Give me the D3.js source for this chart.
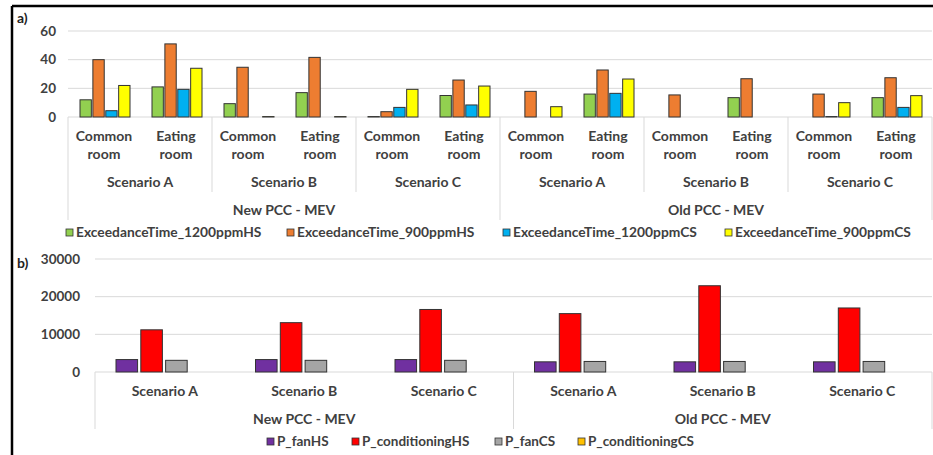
<!DOCTYPE html>
<html>
<head>
<meta charset="utf-8">
<script src="https://cdn.jsdelivr.net/npm/d3@7"></script>
<style>
  body { margin: 0; background: #fff; }
  svg { display: block; font-family: Lato, 'Open Sans', sans-serif; font-weight: bold; }
  .lbl { fill: #404040; }
  .grid line { stroke: #d9d9d9; }
</style>
</head>
<body>
<svg width="933" height="455"></svg>
<script>
// categories
var rooms = ['Common room', 'Eating room'];
var scenarios = ['Scenario A', 'Scenario B', 'Scenario C'];
var systems = ['New PCC - MEV', 'Old PCC - MEV'];

// panel a) series, one value per system/scenario/room
var seriesA = ['ExceedanceTime_1200ppmHS', 'ExceedanceTime_900ppmHS', 'ExceedanceTime_1200ppmCS', 'ExceedanceTime_900ppmCS'];
var ex1200HS = [12, 21, 9.3, 17, 0.3, 15, 0, 16, 0, 13.5, 0, 13.5];
var ex900HS = [40, 51, 34.7, 41.6, 3.7, 25.8, 17.9, 32.8, 15.4, 26.7, 16, 27.4];
var ex1200CS = [4.4, 19.3, 0, 0, 6.7, 8.4, 0, 16.5, 0, 0, 0.3, 6.7];
var ex900CS = [22, 34, 0.3, 0.3, 19.3, 21.6, 7.2, 26.5, 0, 0, 10, 14.9];
var ticksA = [0, 20, 40, 60];
var colorsA = ['#92d050', '#ed7d31', '#00b0f0', '#ffff00'];

// panel b) series, one value per system/scenario
var seriesB = ['P_fanHS', 'P_conditioningHS', 'P_fanCS', 'P_conditioningCS'];
var fanHS = [3300, 3300, 3300, 2700, 2700, 2700];
var condHS = [11200, 13100, 16600, 15500, 22900, 17000];
var fanCS = [3100, 3100, 3100, 2800, 2800, 2800];
var condCS = [0, 0, 0, 0, 0, 0];
var ticksB = [0, 10000, 20000, 30000];
var colorsB = ['#7030a0', '#ff0000', '#a5a5a5', '#ffc000'];

var svg = d3.select('svg');

// frame
svg.append('line').attr('x1', 12).attr('x2', 933).attr('y1', 6).attr('y2', 6)
  .attr('stroke', '#000').attr('stroke-width', 2.5);
svg.append('line').attr('x1', 12).attr('x2', 12).attr('y1', 6).attr('y2', 455)
  .attr('stroke', '#000').attr('stroke-width', 2.5);

// ---------- panel a ----------
var catsA = [];
systems.forEach(function(s){ scenarios.forEach(function(sc){ rooms.forEach(function(r){ catsA.push(s + '|' + sc + '|' + r); }); }); });
var valsA = [ex1200HS, ex900HS, ex1200CS, ex900CS];

var xA = d3.scaleBand().domain(catsA).range([68, 932]);
var innerA = d3.scaleBand().domain(seriesA).range([12, 62]).paddingInner(0.12);
var yA = d3.scaleLinear().domain([0, 60]).range([117, 31]);

var gridA = svg.append('g').attr('class', 'grid');
gridA.selectAll('line').data(ticksA).enter().append('line')
  .attr('x1', 68).attr('x2', 932)
  .attr('y1', function(d){ return yA(d); }).attr('y2', function(d){ return yA(d); });

svg.append('g').selectAll('text').data(ticksA).enter().append('text')
  .attr('class', 'lbl').attr('x', 56).attr('y', function(d){ return yA(d) + 4.5; })
  .attr('text-anchor', 'end').attr('font-size', 13.5).text(function(d){ return d; });

var barsA = svg.append('g');
seriesA.forEach(function(s, si){
  barsA.selectAll('.b' + si).data(catsA.map(function(c, i){ return {c: c, v: valsA[si][i]}; }).filter(function(d){ return d.v > 0; }))
    .enter().append('rect')
    .attr('x', function(d){ return xA(d.c) + innerA(s); })
    .attr('width', innerA.bandwidth())
    .attr('y', function(d){ return yA(d.v); })
    .attr('height', function(d){ return yA(0) - yA(d.v); })
    .attr('fill', colorsA[si]).attr('stroke', '#333').attr('stroke-width', 1);
});

// category axis a
var axA = svg.append('g');
catsA.forEach(function(c){
  var room = c.split('|')[2].split(' ');
  var cx = xA(c) + xA.bandwidth() / 2;
  axA.append('text').attr('class', 'lbl').attr('x', cx).attr('y', 141).attr('text-anchor', 'middle')
    .attr('font-size', 14).text(room[0]);
  axA.append('text').attr('class', 'lbl').attr('x', cx).attr('y', 159).attr('text-anchor', 'middle')
    .attr('font-size', 14).text(room[1]);
});
var scenW = xA.bandwidth() * rooms.length;
systems.forEach(function(s, i){
  scenarios.forEach(function(sc, j){
    var x0 = xA(s + '|' + sc + '|' + rooms[0]);
    axA.append('text').attr('class', 'lbl').attr('x', x0 + scenW / 2).attr('y', 187).attr('text-anchor', 'middle')
      .attr('font-size', 14).text(sc);
    if (j > 0) {
      axA.append('line').attr('x1', x0).attr('x2', x0).attr('y1', 117).attr('y2', 192).attr('stroke', '#d9d9d9');
    }
  });
  var g0 = xA(s + '|' + scenarios[0] + '|' + rooms[0]);
  axA.append('text').attr('class', 'lbl').attr('x', g0 + scenW * 1.5).attr('y', 215).attr('text-anchor', 'middle')
    .attr('font-size', 14).text(s);
  axA.append('line').attr('x1', g0).attr('x2', g0).attr('y1', 117).attr('y2', 220).attr('stroke', '#d9d9d9');
});
axA.append('line').attr('x1', 932).attr('x2', 932).attr('y1', 117).attr('y2', 220).attr('stroke', '#d9d9d9');

// legend a
var legAx = [66, 287, 503, 725];
var legA = svg.append('g');
seriesA.forEach(function(s, i){
  legA.append('rect').attr('x', legAx[i]).attr('y', 229).attr('width', 7).attr('height', 7)
    .attr('fill', colorsA[i]).attr('stroke', '#333').attr('stroke-width', 0.8);
  legA.append('text').attr('class', 'lbl').attr('x', legAx[i] + 10).attr('y', 237)
    .attr('font-size', 13.8).text(s);
});

svg.append('text').attr('x', 17).attr('y', 23).attr('font-size', 14).attr('fill', '#222').text('a)');
svg.append('text').attr('x', 17).attr('y', 268).attr('font-size', 14).attr('fill', '#222').text('b)');

// ---------- panel b ----------
var catsB = [];
systems.forEach(function(s){ scenarios.forEach(function(sc){ catsB.push(s + '|' + sc); }); });
var valsB = [fanHS, condHS, fanCS, condCS];

var xB = d3.scaleBand().domain(catsB).range([95, 932]);
var innerB = d3.scaleBand().domain(seriesB).range([21, 117]).paddingInner(0.13);
var yB = d3.scaleLinear().domain([0, 30000]).range([372, 259]);

var gridB = svg.append('g').attr('class', 'grid');
gridB.selectAll('line').data(ticksB).enter().append('line')
  .attr('x1', 95).attr('x2', 932)
  .attr('y1', function(d){ return yB(d); }).attr('y2', function(d){ return yB(d); });

svg.append('g').selectAll('text').data(ticksB).enter().append('text')
  .attr('class', 'lbl').attr('x', 80).attr('y', function(d){ return yB(d) + 4.5; })
  .attr('text-anchor', 'end').attr('font-size', 13.5).text(function(d){ return d; });

var barsB = svg.append('g');
seriesB.forEach(function(s, si){
  barsB.selectAll('.b' + si).data(catsB.map(function(c, i){ return {c: c, v: valsB[si][i]}; }).filter(function(d){ return d.v > 0; }))
    .enter().append('rect')
    .attr('x', function(d){ return xB(d.c) + innerB(s); })
    .attr('width', innerB.bandwidth())
    .attr('y', function(d){ return yB(d.v); })
    .attr('height', function(d){ return yB(0) - yB(d.v); })
    .attr('fill', colorsB[si]).attr('stroke', '#333').attr('stroke-width', 1);
});

var axB = svg.append('g');
catsB.forEach(function(c){
  axB.append('text').attr('class', 'lbl').attr('x', xB(c) + xB.bandwidth() / 2).attr('y', 396)
    .attr('text-anchor', 'middle').attr('font-size', 14).text(c.split('|')[1]);
});
systems.forEach(function(s){
  var g0 = xB(s + '|' + scenarios[0]);
  axB.append('text').attr('class', 'lbl').attr('x', g0 + xB.bandwidth() * 1.5).attr('y', 424)
    .attr('text-anchor', 'middle').attr('font-size', 14).text(s);
  axB.append('line').attr('x1', g0).attr('x2', g0).attr('y1', 372).attr('y2', 429).attr('stroke', '#d9d9d9');
});
axB.append('line').attr('x1', 932).attr('x2', 932).attr('y1', 372).attr('y2', 429).attr('stroke', '#d9d9d9');

// legend b
var legBx = [267, 352, 495, 578];
var legB = svg.append('g');
seriesB.forEach(function(s, i){
  legB.append('rect').attr('x', legBx[i]).attr('y', 438).attr('width', 7).attr('height', 7)
    .attr('fill', colorsB[i]).attr('stroke', '#333').attr('stroke-width', 0.8);
  legB.append('text').attr('class', 'lbl').attr('x', legBx[i] + 10).attr('y', 446)
    .attr('font-size', 13.5).text(s);
});
</script>
</body>
</html>
